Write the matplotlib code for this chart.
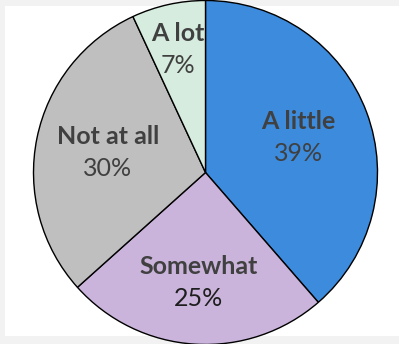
import matplotlib.pyplot as plt
import numpy as np
from matplotlib.patches import Rectangle

# survey answers, clockwise from the top
labels = ["A little", "Somewhat", "Not at all", "A lot"]
values = [39, 25, 30, 7]
pct_text = ["39%", "25%", "30%", "7%"]

colors = ["#3C8BDD", "#CAB4DB", "#BFBFBF", "#D6ECDF"]
label_dist = [0.575, 0.64, 0.58, 0.735]
pct_colors = ["#404040", "#1E1E1E", "#404040", "#404040"]

plt.rcParams['font.family'] = ['Lato', 'DejaVu Sans']

fig = plt.figure(figsize=(3.99, 3.44), dpi=100, facecolor="#f2f2f2")
fig.patches.append(Rectangle((5 / 399, 8 / 344), 1, 1 - 14 / 344,
                             transform=fig.transFigure, facecolor="white",
                             edgecolor="none", zorder=-1))

ax = fig.add_axes([0, 0, 1, 1])
ax.set_zorder(1)
ax.patch.set_visible(False)

cx, cy, r = 205.5, 171.5, 172
wedges, _ = ax.pie(values, colors=colors, startangle=90, counterclock=False,
                   center=(cx, cy), radius=r,
                   wedgeprops=dict(edgecolor="black", linewidth=1.0))

ax.set_xlim(0, 399)
ax.set_ylim(0, 344)
ax.set_aspect('equal')
ax.axis('off')

for w, name, pct, d, pc in zip(wedges, labels, pct_text, label_dist, pct_colors):
    mid = np.deg2rad((w.theta1 + w.theta2) / 2)
    x = cx + d * r * np.cos(mid)
    y = cy + d * r * np.sin(mid)
    ax.text(x, y + 16, name, ha='center', va='center', fontsize=18,
            fontweight='bold', color="#404040")
    ax.text(x, y - 16, pct, ha='center', va='center', fontsize=18,
            color=pc)

fig.savefig("out.png", dpi=100, facecolor=fig.get_facecolor())
